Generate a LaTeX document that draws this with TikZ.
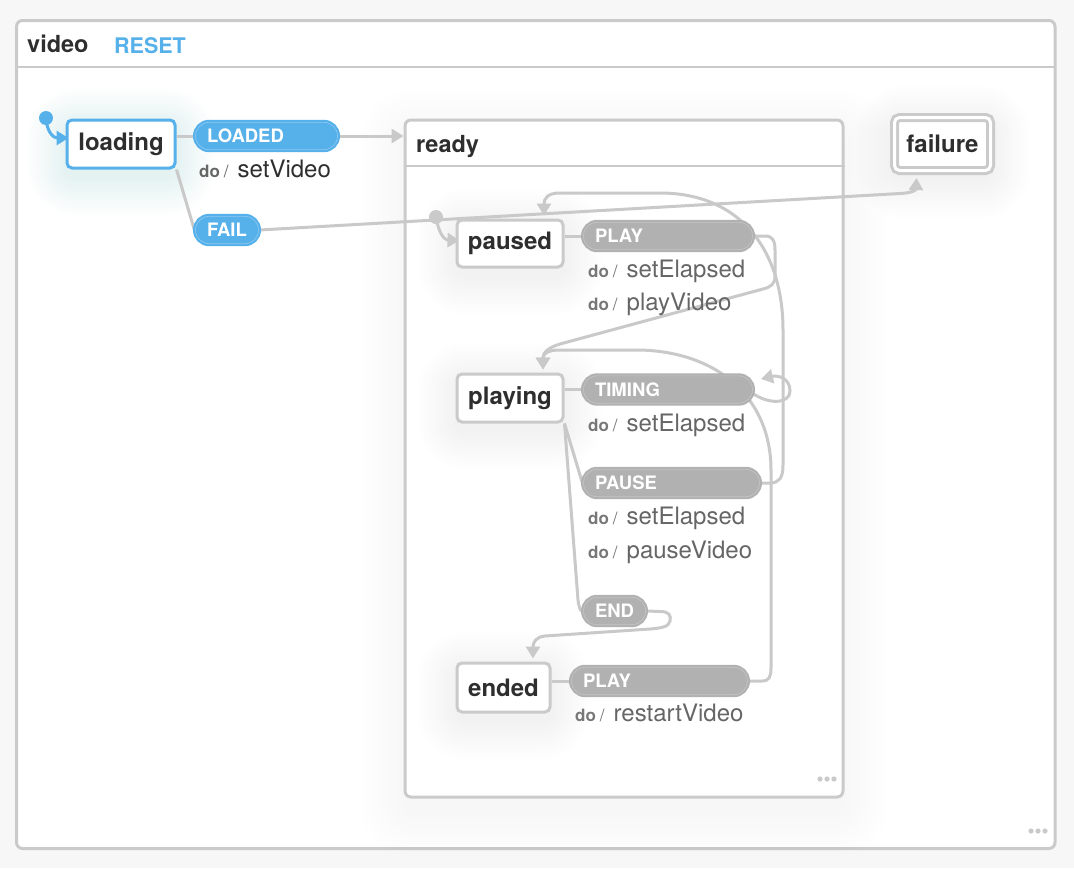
\documentclass[tikz,border=0pt]{standalone}
\usepackage{fontspec}
\setmainfont{TeX Gyre Heros}
\usetikzlibrary{arrows.meta,calc}
\definecolor{cline}{HTML}{C9C9C9}
\definecolor{cborder}{HTML}{CACACA}
\definecolor{cblue}{HTML}{56B0EA}
\definecolor{cblueline}{HTML}{8CCAF2}
\definecolor{cpill}{HTML}{B1B1B1}
\definecolor{cpillline}{HTML}{C4C4C4}
\definecolor{ctext}{HTML}{2E2E2E}
\definecolor{cact}{HTML}{666666}
\definecolor{cdo}{HTML}{777777}
\definecolor{cbg}{HTML}{F7F7F7}
\pgfdeclarelayer{back}
\pgfdeclarelayer{mid}
\pgfsetlayers{back,mid,main}
\newcommand\dolbl[1][cdo]{{\fontsize{17}{19}\selectfont\color{#1}\textbf{do}\hspace{4pt}/\hspace{9pt}}}
\newcommand\softglow[3]{% node, colour, opacity per layer
  \foreach \r in {2,5,...,38}{%
    \fill[#2, opacity=#3, rounded corners=\r pt+10pt]
      ($(#1.south west)+(-\r,\r+8)$) rectangle ($(#1.north east)+(\r,-\r+8)$);}}
\begin{document}
\begin{tikzpicture}[x=1pt,y=-1pt,
  statebox/.style={draw=cborder, line width=3pt, fill=white, rounded corners=5pt,
    minimum height=48pt, inner sep=0pt, font=\fontsize{24}{27}\selectfont\bfseries, text=ctext},
  pill/.style={draw=cpill, fill=cpill, line width=2.2pt, double=cpillline, double distance=0.6pt,
    rounded corners=13.7pt, minimum height=27.4pt, inner xsep=11.5pt,
    inner ysep=0pt, align=left, font=\fontsize{18.5}{21}\selectfont\bfseries, text=white},
  bluepill/.style={pill, draw=cblue, fill=cblue, double=cblueline},
  act/.style={anchor=base west, inner sep=0pt, font=\fontsize{24}{27}\selectfont, text=cact},
  conn/.style={draw=cline, line width=3pt},
  arr/.style={conn, -{Triangle[length=12pt,width=14pt]}},
  initdot/.style={circle, minimum size=14pt, inner sep=0pt},
  dots/.style={fill=cborder}
]
\useasboundingbox (0,0) rectangle (1074,868);

% states (main layer)
\node[statebox, draw=cblue, minimum width=108pt] (loading) at (121,144) {loading};
\node[statebox, minimum width=106pt, minimum height=47pt] (paused) at (510,243.5) {paused};
\node[statebox, minimum width=106pt] (playing) at (510,398) {playing};
\node[statebox, minimum width=93pt, minimum height=49pt] (ended) at (503.5,687.5) {ended};
\node[statebox, double=white, double distance=3pt, minimum width=96pt, minimum height=53pt] (failure) at (942.5,144) {failure};

\begin{pgfonlayer}{back}
\fill[cbg] (0,0) rectangle (1074,868);
\draw[draw=cborder, line width=3pt, fill=white, rounded corners=6pt] (16.5,20.5) rectangle (1055,848.5);
\draw[cborder, line width=1.5pt] (16.5,67) -- (1055,67);
\coordinate (rdnw) at (405,120);
\coordinate (rdse) at (843,797);
\foreach \r in {4,10,...,46}{\fill[black, opacity=0.004, rounded corners=\r pt+10pt] ($(rdnw)+(-\r,-\r+14)$) rectangle ($(rdse)+(\r,\r+14)$);}
\node[draw=cborder, line width=3pt, fill=white, rounded corners=6pt, minimum width=438pt,
  minimum height=677pt, inner sep=0pt] (ready) at (624,458.5) {};
\draw[cborder, line width=1.5pt] (ready.west |- 0,166) -- (ready.east |- 0,166);
\softglow{loading}{cblue}{0.008}
\softglow{paused}{black}{0.004}
\softglow{playing}{black}{0.004}
\softglow{ended}{black}{0.004}
\softglow{failure}{black}{0.003}
\end{pgfonlayer}

\node[anchor=base west, inner sep=0pt, font=\fontsize{23.5}{26}\selectfont\bfseries, text=ctext] (videolbl) at (27,52) {video};
\node[anchor=base west, inner sep=0pt, font=\fontsize{21.5}{26}\selectfont\bfseries, text=cblue] (reset) at (114,53.5) {RESET};
\node[anchor=base west, inner sep=0pt, font=\fontsize{23.5}{26}\selectfont\bfseries, text=ctext] (readylbl) at (416,152) {ready};

% initial dots
\node[initdot, fill=cblue] (init1) at (46,118) {};
\node[initdot, fill=cborder] (init2) at (436,217) {};

% transition pills
\node[bluepill, text width=119pt] (LOADED) at (266.5,136) {LOADED};
\node[bluepill, text width=40pt] (FAIL) at (227,230) {FAIL};
\node[pill, text width=146pt] (PLAY1) at (668,236) {PLAY};
\node[pill, text width=146pt] (TIMING) at (668,389.5) {TIMING};
\node[pill, text width=153pt] (PAUSE) at (671.5,483) {PAUSE};
\node[pill, text width=39pt] (END) at (614.5,611) {END};
\node[pill, text width=153pt] (PLAY2) at (659.5,681) {PLAY};

% actions
\node[act, text=ctext] (a1) at (199,177) {\dolbl[cact]setVideo};
\node[act] (a2) at (588,277) {\dolbl setElapsed};
\node[act] (a3) at (588,310) {\dolbl playVideo};
\node[act] (a4) at (588,431) {\dolbl setElapsed};
\node[act] (a5) at (588,524) {\dolbl setElapsed};
\node[act] (a6) at (588,558) {\dolbl pauseVideo};
\node[act] (a7) at (575,721) {\dolbl restartVideo};

% ellipsis dots
\foreach \x in {820,827,834} \fill[dots] (\x,779) circle (2.6);
\foreach \x in {1031,1038,1045} \fill[dots] (\x,831) circle (2.6);

\begin{pgfonlayer}{mid}
% initial transitions
\draw[arr, draw=cblue, -{Triangle[length=12pt,width=14pt,fill=cblue]}] (init1.center) .. controls (47,133) and (54,138) .. ($(loading.west)+(3,-6)$);
\draw[arr] (init2.center) .. controls (439,235) and (445,240) .. ($(paused.west)+(4,-3)$);
% loading
\draw[conn] (LOADED.west) -- (LOADED.west -| loading.east);
\draw[arr] (LOADED.east) -- (LOADED.east -| ready.west);
\draw[conn] (loading.south east) -- (FAIL.west);
\draw[arr] (FAIL.east) -- (900,193.5) .. controls (912,193) and (916,190) .. ($(failure.south)+(-26,6)$);
% paused
\draw[conn] (PLAY1.west) -- (PLAY1.west -| paused.east);
\draw[arr] (PLAY1.east) -- (765,236) .. controls (772,236) and (775,240) .. (775,250)
  -- (775,276) .. controls (775,284) and (771,287) .. (763,289)
  -- (560,344) .. controls (547,348) and (543,353) .. ($(playing.north)+(33,-3)$);
% playing
\draw[conn] (TIMING.west) -- (TIMING.west -| playing.east);
\draw[arr] ($(TIMING.east)+(-2,3)$) .. controls (768,405) and (790,404) .. (790,391)
  .. controls (790,378) and (778,375) .. (761,379);
\draw[conn] (playing.south east) -- (PAUSE.west);
\draw[conn] (playing.south east) -- (578,600) .. controls (579,607) and (580,611) .. (END.west);
\draw[arr] (PAUSE.east) -- (770,483) .. controls (779,483) and (783,478) .. (783,465)
  -- (783,330) .. controls (783,250) and (740,193) .. (660,193)
  -- (560,193) .. controls (548,193) and (544,198) .. ($(paused.north)+(34,-3)$);
\draw[arr] (END.east) -- (660,611.5) .. controls (670,611.5) and (671,616) .. (670,621)
  .. controls (669,627) and (661,628) .. (650,629)
  -- (545,636) .. controls (536,637) and (533,642) .. ($(ended.north)+(29.5,-3)$);
% ended
\draw[conn] (PLAY2.west) -- (PLAY2.west -| ended.east);
\draw[arr] (PLAY2.east) -- (762,681) .. controls (769,681) and (771,677) .. (771,668)
  -- (771,470) .. controls (771,400) and (720,352) .. (640,350)
  -- (560,350) .. controls (547,350) and (543,354) .. ($(playing.north)+(33,-3)$);
\end{pgfonlayer}
\end{tikzpicture}
\end{document}
